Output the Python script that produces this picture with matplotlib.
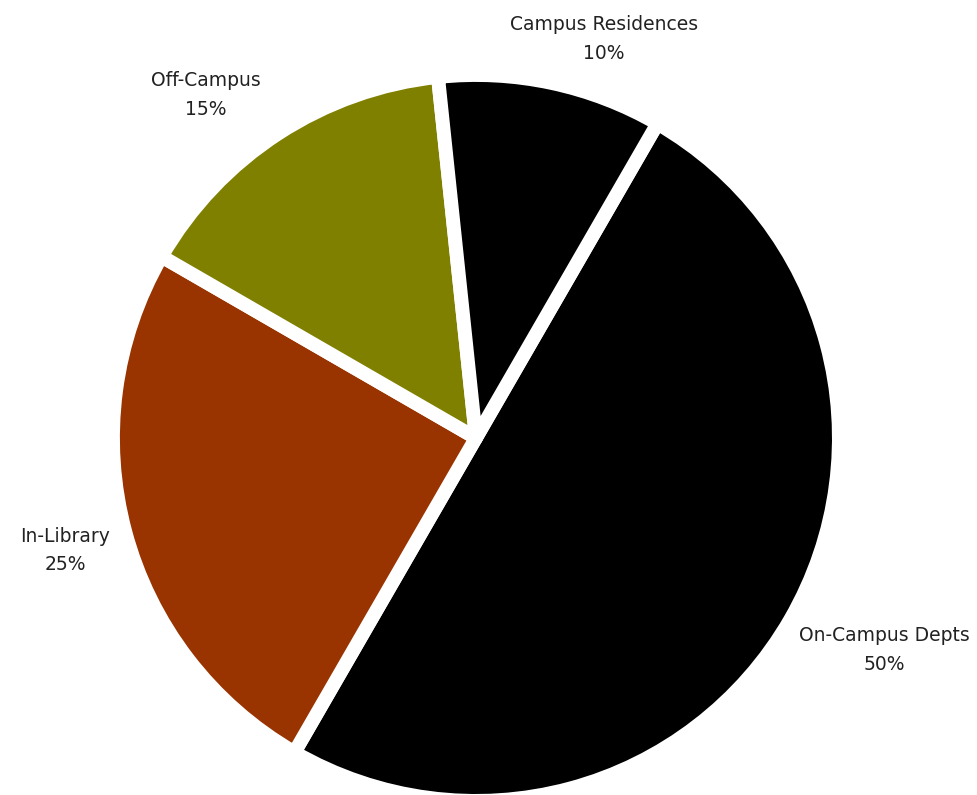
import matplotlib.pyplot as plt

# --- Data ---
categories = ["On-Campus Depts", "In-Library", "Off-Campus", "Campus Residences"]
shares = [50, 25, 15, 10]
colors = ["#000000", "#993300", "#808000", "#000000"]

# label anchor points in pie radii (layout only)
label_xy = [(1.124, -0.585), (-1.132, -0.31), (-0.744, 0.944), (0.353, 1.10)]

fig = plt.figure(figsize=(9.78, 7.95), dpi=100)
# pie radius 1 == 363 px, centre at (476, 438) from top-left
ax = fig.add_axes([0.1155, -0.0075, 0.7423, 0.9132])

wedges, _ = ax.pie(shares, colors=colors, startangle=60, counterclock=False,
                   wedgeprops=dict(edgecolor="white", linewidth=10,
                                   joinstyle="round"))

for name, val, (x, y) in zip(categories, shares, label_xy):
    ax.text(x, y, f"{name}\n{val}%", ha="center", va="center",
            fontsize=13.5, color="#222222", family="DejaVu Sans",
            linespacing=1.65, clip_on=False)

ax.set_xlim(-1, 1)
ax.set_ylim(-1, 1)
ax.set_aspect("equal")
ax.axis("off")

plt.savefig("out.png", dpi=100)
